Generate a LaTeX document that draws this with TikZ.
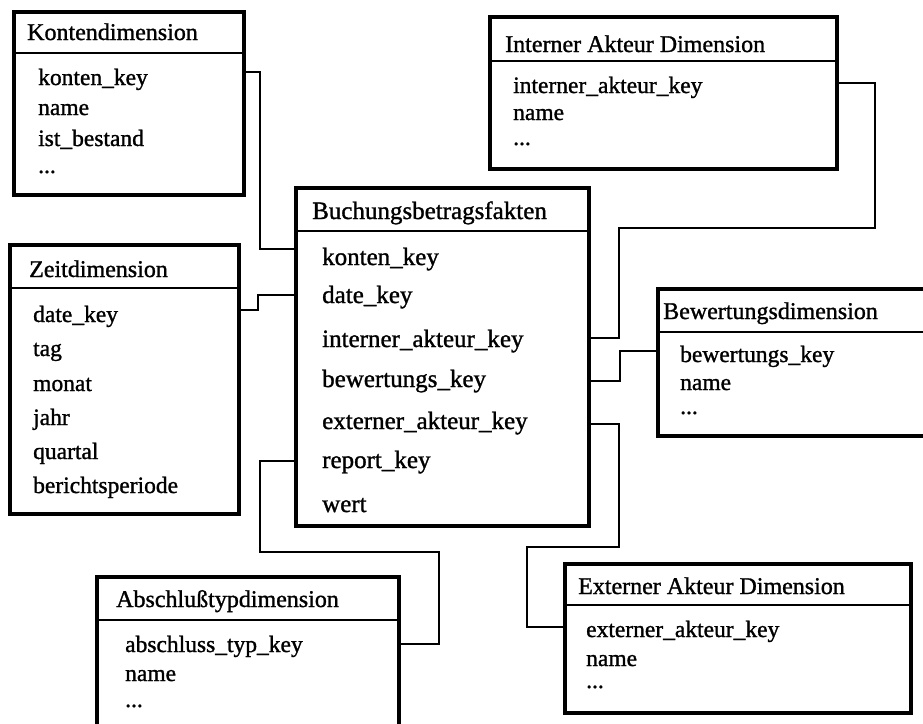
\documentclass[tikz,border=0pt]{standalone}
\usepackage{fontspec}
\setmainfont{Liberation Serif}[BoldFont=Liberation Serif, BoldFeatures={FakeBold=1.2}]
\begin{document}
\begin{tikzpicture}[x=1pt,y=-1pt,
  tbl/.style={draw, line width=3.6pt, rectangle, inner sep=0pt, anchor=north west, fill=white},
  sep/.style={line width=1.3pt},
  conn/.style={line width=1.3pt},
  ttl/.style={anchor=base west, inner sep=0pt, font=\fontsize{24}{28}\selectfont\bfseries},
  itm/.style={anchor=base west, inner sep=0pt, font=\fontsize{23.5}{28}\selectfont\bfseries},
  fitm/.style={anchor=base west, inner sep=0pt, font=\fontsize{25}{30}\selectfont\bfseries},
]
\useasboundingbox (0,0) rectangle (923,723);
\clip (0,0) rectangle (923,723);
\fill[white] (0,0) rectangle (923,723);

% ---------- boxes ----------
\node[tbl, minimum width=230pt, minimum height=183pt] (kd) at (12,10) {};
\node[tbl, minimum width=229pt, minimum height=269pt] (zd) at (8,243) {};
\node[tbl, minimum width=293pt, minimum height=338pt] (fb) at (294,186) {};
\node[tbl, minimum width=347pt, minimum height=152pt] (ia) at (488,15) {};
\node[tbl, minimum width=290pt, minimum height=147pt] (bd) at (656,287) {};
\node[tbl, minimum width=302pt, minimum height=170pt] (ad) at (95,575) {};
\node[tbl, minimum width=346pt, minimum height=149pt] (ea) at (563,562) {};

% ---------- header separators ----------
\draw[sep] (kd.west |- 0,53) -- (kd.east |- 0,53);
\draw[sep] (zd.west |- 0,288) -- (zd.east |- 0,288);
\draw[sep] (fb.west |- 0,231) -- (fb.east |- 0,231);
\draw[sep] (ia.west |- 0,61) -- (ia.east |- 0,61);
\draw[sep] (bd.west |- 0,332) -- (bd.east |- 0,332);
\draw[sep] (ad.west |- 0,620) -- (ad.east |- 0,620);
\draw[sep] (ea.west |- 0,605) -- (ea.east |- 0,605);

% ---------- texts ----------
\node[ttl] (kdt) at (27,40) {Kontendimension};
\node[itm] (kd1) at (38,85) {konten\_key};
\node[itm] (kd2) at (38,115) {name};
\node[itm] (kd3) at (38,146) {ist\_bestand};
\node[itm] (kd4) at (38,173) {...};

\node[ttl] (zdt) at (29,277) {Zeitdimension};
\node[itm] (zd1) at (33,322) {date\_key};
\node[itm] (zd2) at (33,356) {tag};
\node[itm] (zd3) at (33,391) {monat};
\node[itm] (zd4) at (33,425) {jahr};
\node[itm] (zd5) at (33,459) {quartal};
\node[itm] (zd6) at (33,493) {berichtsperiode};

\node[fitm] (fbt) at (312,219) {Buchungsbetragsfakten};
\node[fitm] (fb1) at (322,265) {konten\_key};
\node[fitm] (fb2) at (322,303) {date\_key};
\node[fitm] (fb3) at (322,347) {interner\_akteur\_key};
\node[fitm] (fb4) at (322,387) {bewertungs\_key};
\node[fitm] (fb5) at (322,429) {externer\_akteur\_key};
\node[fitm] (fb6) at (322,468) {report\_key};
\node[fitm] (fb7) at (322,512) {wert};

\node[ttl] (iat) at (505,52) {Interner Akteur Dimension};
\node[itm] (ia1) at (513,93) {interner\_akteur\_key};
\node[itm] (ia2) at (513,120) {name};
\node[itm] (ia3) at (513,145) {...};

\node[ttl] (bdt) at (663,319) {Bewertungsdimension};
\node[itm] (bd1) at (680,362) {bewertungs\_key};
\node[itm] (bd2) at (680,390) {name};
\node[itm] (bd3) at (680,414) {...};

\node[ttl] (adt) at (116,607) {Abschlußtypdimension};
\node[itm] (ad1) at (125,652) {abschluss\_typ\_key};
\node[itm] (ad2) at (125,681) {name};
\node[itm] (ad3) at (125,707) {...};

\node[ttl] (eat) at (578,594) {Externer Akteur Dimension};
\node[itm] (ea1) at (586,637) {externer\_akteur\_key};
\node[itm] (ea2) at (586,666) {name};
\node[itm] (ea3) at (586,688) {...};

% ---------- connectors ----------
\draw[conn] (kd.east |- 0,72) -| (260,249) -- (fb.west |- 0,249);
\draw[conn] (zd.east |- 0,310) -| (258,295) -- (fb.west |- 0,295);
\draw[conn] (fb.west |- 0,461) -| (260,552) -| (439,644) -- (ad.east |- 0,644);
\draw[conn] (ia.east |- 0,83) -| (875,228) -| (619,338) -- (fb.east |- 0,338);
\draw[conn] (bd.west |- 0,351) -| (620,381) -- (fb.east |- 0,381);
\draw[conn] (fb.east |- 0,424) -| (619,547) -| (527,627) -- (ea.west |- 0,627);
\end{tikzpicture}
\end{document}
